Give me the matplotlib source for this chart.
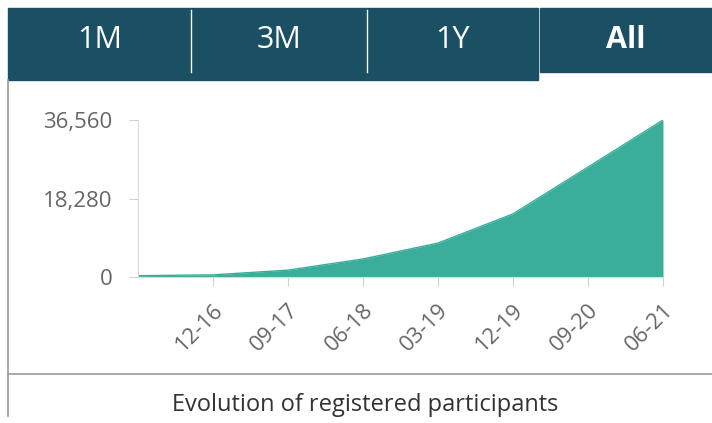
import matplotlib.pyplot as plt
from matplotlib.patches import Rectangle
from matplotlib.lines import Line2D
from matplotlib.ticker import FuncFormatter

plt.rcParams['font.family'] = ['Open Sans', 'DejaVu Sans']

# data (months since 03-16, registered participants)
months = [0, 9, 18, 27, 36, 45, 54, 63]
participants = [300, 500, 1600, 4200, 7900, 14700, 25600, 36560]
tick_labels = ["12-16", "09-17", "06-18", "03-19", "12-19", "09-20", "06-21"]
y_ticks = [0, 18280, 36560]
tabs = ["1M", "3M", "1Y", "All"]

W, H = 712, 423
fig = plt.figure(figsize=(W / 100, H / 100), dpi=100)

def fx(px):
    return px / W

def fy(py):
    return 1 - py / H

tab_color = "#1b4f63"
# tab bar
fig.patches.append(Rectangle((fx(8), fy(80)), fx(538 - 8), fy(8) - fy(80),
                             transform=fig.transFigure, color=tab_color))
fig.patches.append(Rectangle((fx(540), fy(72)), fx(712 - 540), fy(8) - fy(72),
                             transform=fig.transFigure, color=tab_color))
for x in [191, 367]:
    fig.lines.append(Line2D([fx(x), fx(x)], [fy(10), fy(72)],
                            transform=fig.transFigure, color="white", lw=1))
tab_centers = [100, 279, 453, 626]
for name, cx in zip(tabs, tab_centers):
    fig.text(fx(cx), fy(40), name, color="white", fontsize=22,
             ha="center", va="center",
             fontweight="bold" if name == "All" else "normal")

# card borders
fig.lines.append(Line2D([fx(8), fx(8)], [fy(80), fy(416)],
                        transform=fig.transFigure, color="#9a9a90", lw=1.2))
fig.lines.append(Line2D([fx(8), fx(712)], [fy(374), fy(374)],
                        transform=fig.transFigure, color="#9a9a90", lw=1.2))
fig.text(fx(365), fy(405), "Evolution of registered participants",
         color="#333333", fontsize=17, ha="center", va="center")

# chart area
ax = fig.add_axes([fx(138), fy(277), fx(663 - 138), fy(120) - fy(277)])
ax.fill_between(months, participants, 0, color="#3aae9a", lw=0)
ax.plot(months, participants, color="#3aae9a", lw=1)
ax.set_xlim(0, 63)
ax.set_ylim(0, 36560)
ax.set_xticks(months[1:])
ax.set_xticklabels(tick_labels, rotation=45, ha="right", va="top",
                   rotation_mode="anchor")
ax.set_yticks(y_ticks)
ax.yaxis.set_major_formatter(FuncFormatter(lambda v, p: f"{int(v):,}"))
for s in ["top", "right"]:
    ax.spines[s].set_visible(False)
for s in ["left", "bottom"]:
    ax.spines[s].set_color("#d8d8d8")
ax.tick_params(axis="both", colors="#d0d0d0", labelcolor="#666666",
               labelsize=16, length=6.5)
ax.tick_params(axis="x", pad=10)
ax.tick_params(axis="y", pad=12)

fig.savefig("out.png", dpi=100)
